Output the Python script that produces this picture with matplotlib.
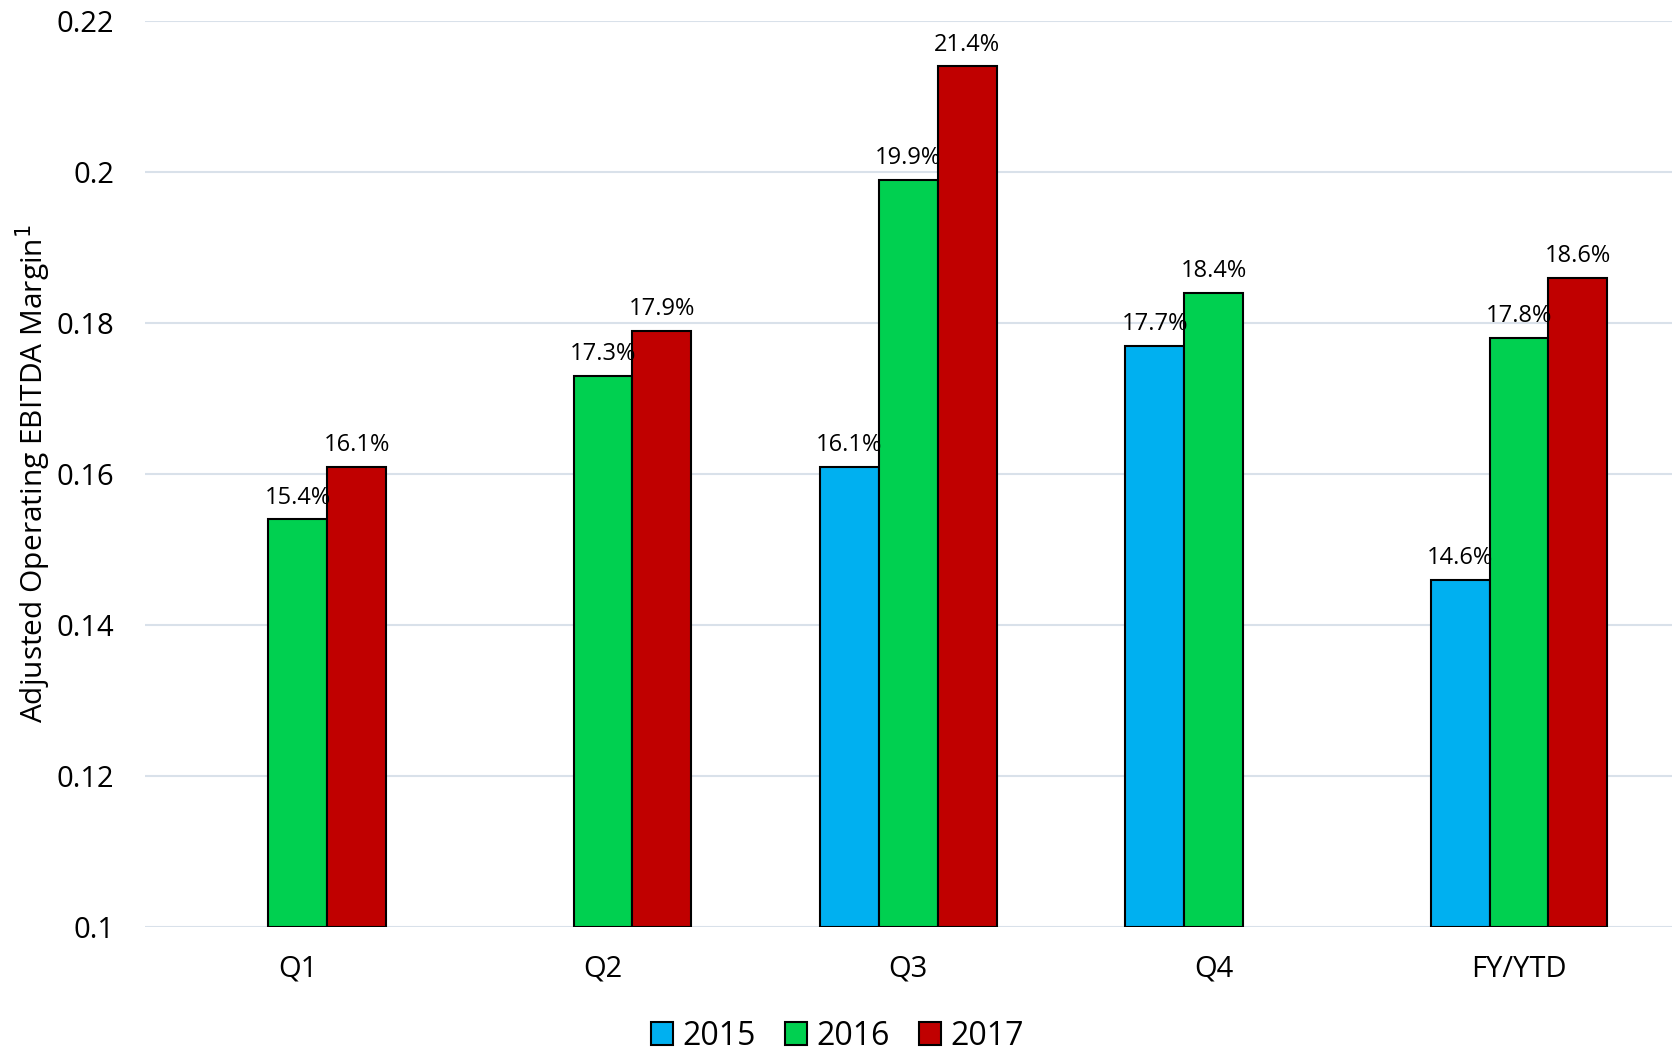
import numpy as np
import matplotlib
matplotlib.use("Agg")
import matplotlib.pyplot as plt
from matplotlib.patches import Patch

plt.rcParams['font.family'] = ['Open Sans', 'DejaVu Sans']

# Data (nan = no bar)
categories = ["Q1", "Q2", "Q3", "Q4", "FY/YTD"]
years = ["2015", "2016", "2017"]
margin_2015 = [np.nan, np.nan, 0.161, 0.177, 0.146]
margin_2016 = [0.154, 0.173, 0.199, 0.184, 0.178]
margin_2017 = [0.161, 0.179, 0.214, np.nan, 0.186]
y_ticks = [0.1, 0.12, 0.14, 0.16, 0.18, 0.2, 0.22]
y_tick_labels = ["0.1", "0.12", "0.14", "0.16", "0.18", "0.2", "0.22"]

colors = ["#00B0F0", "#00D050", "#C00000"]
series = [margin_2015, margin_2016, margin_2017]

fig = plt.figure(figsize=(16.75, 10.5), dpi=100)
ax = fig.add_axes([0.0866, 0.117, 0.9114, 0.863])

x = np.arange(len(categories))
width = 0.193

for i, (vals, col) in enumerate(zip(series, colors)):
    offs = (i - 1) * width
    for xi, v in zip(x, vals):
        if np.isnan(v):
            continue
        ax.bar(xi + offs, v - 0.1, width, bottom=0.1, color=col,
               edgecolor="black", linewidth=1.5, zorder=3)
        ax.annotate(f"{v*100:.1f}%", (xi + offs, v), xytext=(0, 7),
                    textcoords="offset points", ha="center", va="bottom",
                    fontsize=17, zorder=4)

ax.set_xlim(-0.5, len(categories) - 0.5)
ax.set_ylim(0.1, 0.22)
ax.set_yticks(y_ticks)
ax.set_yticklabels(y_tick_labels)
ax.set_xticks(x)
ax.set_xticklabels(categories)
ax.tick_params(axis="both", length=0, labelsize=21)
ax.tick_params(axis="y", pad=22)
ax.tick_params(axis="x", pad=20)
ax.grid(axis="y", color="#D9E1EA", linewidth=1.5, zorder=0)
for s in ax.spines.values():
    s.set_visible(False)

ax.set_ylabel("Adjusted Operating EBITDA Margin$^{1}$", fontsize=21.5)
ax.yaxis.set_label_coords(-0.06, 0.5)

handles = [Patch(facecolor=c, edgecolor="black", linewidth=1.5, label=y) for c, y in zip(colors, years)]
fig.legend(handles=handles, loc="center", bbox_to_anchor=(0.5, 0.013), ncol=3,
           frameon=False, fontsize=23, handlelength=0.7, handleheight=0.7,
           handletextpad=0.3, columnspacing=0.9)

fig.savefig("out.png", dpi=100)
